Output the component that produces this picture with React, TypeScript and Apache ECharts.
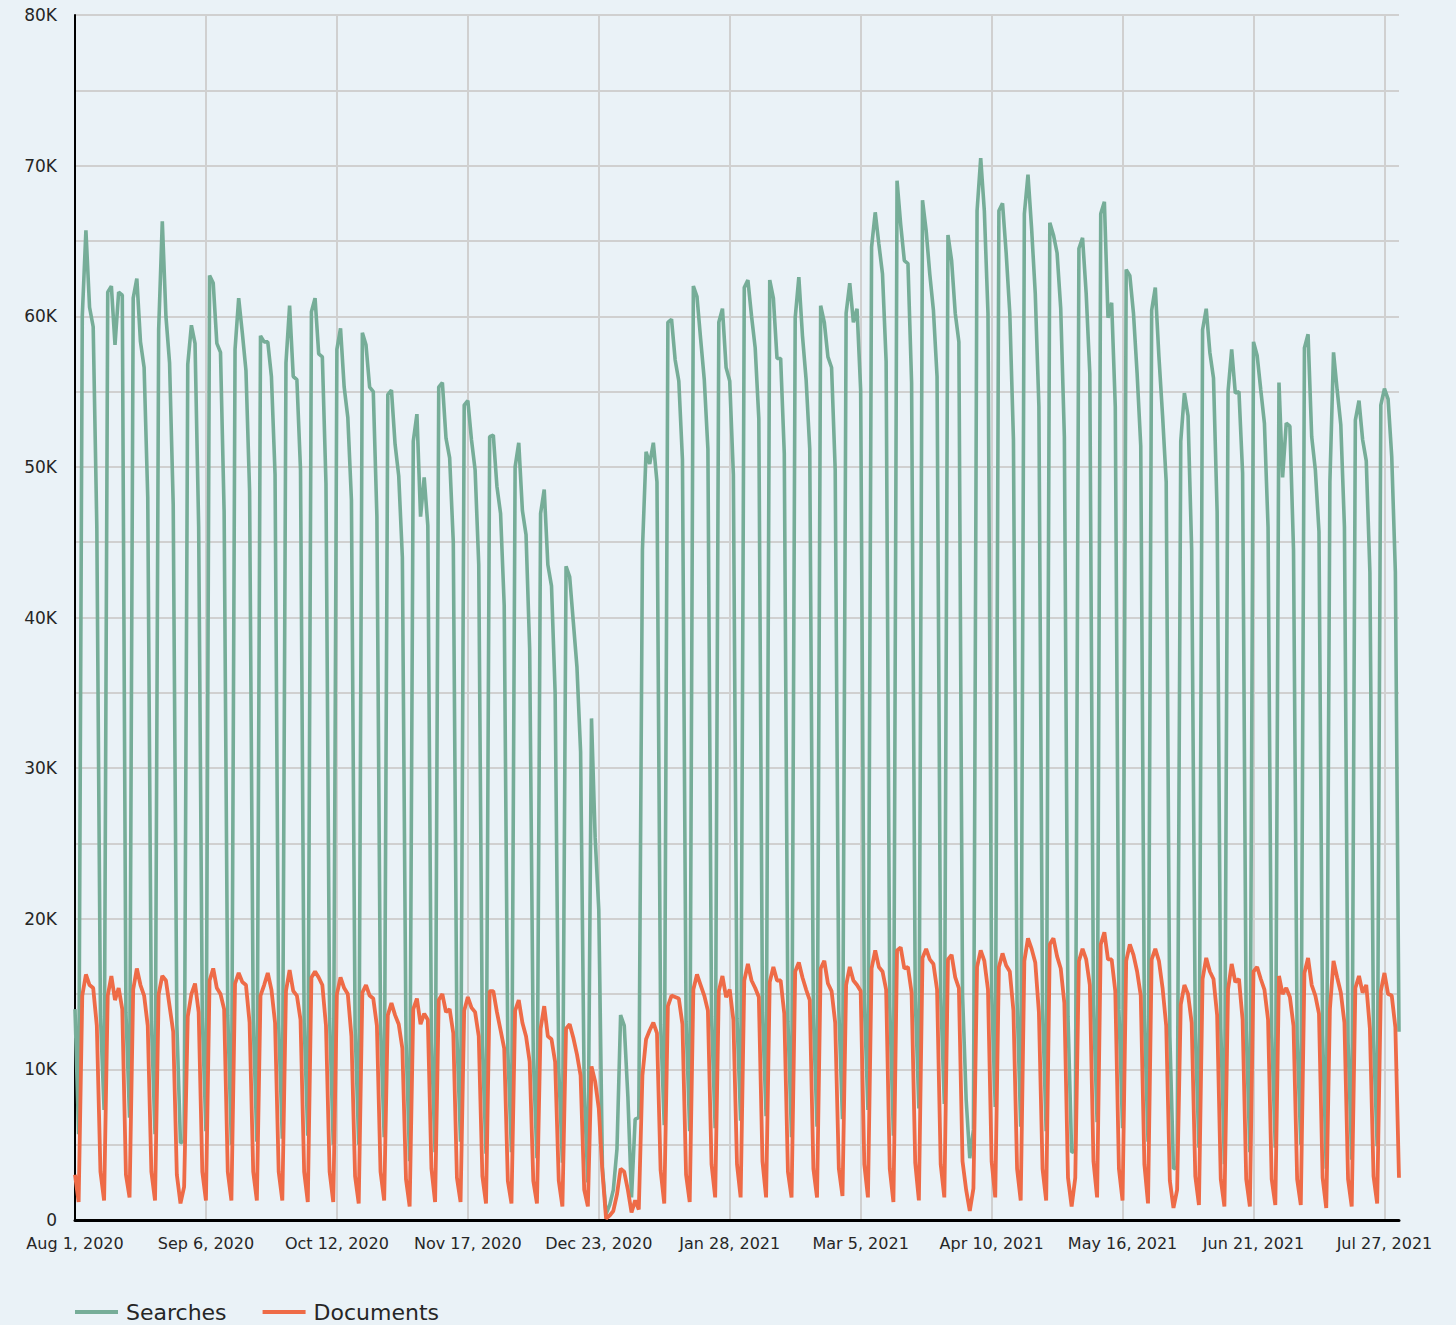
import React, { useEffect, useRef } from "react";
import * as echarts from "echarts";

// Daily dates: Aug 1, 2020 .. Jul 31, 2021 (365 days)
const MONTHS = ["Jan", "Feb", "Mar", "Apr", "May", "Jun", "Jul", "Aug", "Sep", "Oct", "Nov", "Dec"];
const START_UTC = Date.UTC(2020, 7, 1);
const DAY_COUNT = 365;
const dates: string[] = [];
for (let i = 0; i < DAY_COUNT; i++) {
  const d = new Date(START_UTC + i * 86400000);
  dates.push(`${MONTHS[d.getUTCMonth()]} ${d.getUTCDate()}, ${d.getUTCFullYear()}`);
}

// Values in thousands. Rows: first row Sat/Sun, then Mon..Sun weeks, last row Mon..Sat
const searchesK: number[] = [
  14.0, 5.7,
  60.0, 65.7, 60.6, 59.3, 46.0, 13.5, 7.3,
  61.6, 62.0, 58.1, 61.6, 61.4, 13.8, 6.8,
  61.2, 62.5, 58.3, 56.6, 48.0, 13.2, 5.7,
  59.1, 66.3, 60.0, 56.9, 47.5, 13.0, 5.1,
  5.3, 56.8, 59.4, 58.2, 46.0, 13.4, 5.9,
  62.7, 62.2, 58.2, 57.6, 47.0, 13.6, 5.0,
  57.8, 61.2, 58.9, 56.4, 48.4, 13.2, 5.2,
  58.7, 58.3, 58.3, 56.0, 49.5, 13.0, 5.4,
  56.9, 60.7, 56.0, 55.8, 49.8, 13.1, 5.6,
  60.3, 61.2, 57.5, 57.3, 48.9, 13.4, 5.0,
  57.8, 59.2, 55.3, 53.3, 47.8, 12.8, 5.0,
  58.9, 58.1, 55.3, 55.0, 46.7, 12.9, 5.5,
  54.8, 55.1, 51.5, 49.4, 44.0, 12.0, 3.9,
  51.7, 53.5, 46.7, 49.3, 46.1, 11.8, 4.5,
  55.3, 55.6, 51.9, 50.6, 45.0, 12.2, 5.2,
  54.1, 54.4, 51.8, 49.8, 43.5, 11.6, 4.4,
  52.0, 52.1, 48.7, 46.9, 40.8, 11.2, 4.5,
  50.0, 51.6, 47.1, 45.5, 37.9, 10.8, 4.1,
  46.9, 48.5, 43.5, 42.1, 35.0, 10.0, 3.8,
  43.4, 42.7, 39.7, 36.7, 31.1, 8.5, 2.5,
  33.3, 25.4, 20.6, 3.5, 0.4, 1.0, 2.0,
  4.7, 13.6, 12.9, 8.2, 1.5, 6.7, 6.8,
  44.5, 51.0, 50.2, 51.6, 49.0, 13.0, 6.3,
  59.6, 59.8, 57.1, 55.7, 50.5, 13.2, 5.9,
  62.0, 61.3, 58.5, 55.8, 51.2, 13.5, 6.1,
  59.6, 60.5, 56.6, 55.7, 49.5, 13.4, 6.6,
  61.9, 62.4, 60.0, 57.9, 53.2, 13.8, 6.9,
  62.4, 61.2, 57.2, 57.2, 50.9, 13.2, 5.5,
  59.9, 62.6, 58.7, 55.8, 51.2, 13.6, 6.2,
  60.7, 59.6, 57.3, 56.6, 49.8, 13.9, 6.7,
  60.2, 62.2, 59.6, 60.5, 55.1, 14.5, 7.3,
  64.6, 66.9, 64.8, 62.8, 57.0, 14.2, 5.6,
  69.0, 66.1, 63.7, 63.5, 55.6, 14.8, 7.4,
  67.7, 65.7, 62.8, 60.4, 56.0, 15.0, 7.7,
  65.4, 63.7, 60.2, 58.3, 15.0, 8.0, 4.1,
  6.0, 67.0, 70.5, 67.0, 60.2, 15.2, 7.5,
  67.0, 67.5, 64.2, 60.2, 51.8, 14.5, 6.2,
  66.8, 69.4, 65.8, 61.5, 54.0, 14.0, 5.9,
  66.2, 65.4, 64.2, 60.5, 52.0, 13.5, 4.5,
  4.6, 64.5, 65.2, 61.5, 56.2, 14.3, 6.5,
  66.8, 67.6, 59.9, 60.9, 54.0, 14.0, 6.1,
  63.1, 62.7, 60.2, 56.2, 51.4, 13.5, 5.2,
  60.4, 61.9, 57.3, 53.4, 49.0, 12.2, 3.4,
  3.5, 51.7, 54.9, 53.4, 44.5, 12.5, 4.8,
  59.1, 60.5, 57.6, 55.9, 47.0, 12.8, 3.7,
  55.0, 57.8, 54.9, 55.0, 49.6, 12.6, 4.5,
  58.3, 57.4, 55.1, 52.9, 46.0, 12.4, 4.8,
  55.6, 49.3, 52.9, 52.7, 44.5, 12.0, 5.0,
  57.9, 58.8, 52.0, 49.8, 45.7, 12.3, 3.4,
  49.0, 57.6, 55.1, 52.8, 46.0, 11.8, 4.0,
  53.1, 54.4, 51.8, 50.4, 43.0, 12.0, 4.9,
  54.1, 55.2, 54.5, 50.7, 43.0, 12.5,
];

const documentsK: number[] = [
  3.0, 1.2,
  14.9, 16.3, 15.6, 15.4, 12.9, 3.2, 1.3,
  14.9, 16.2, 14.6, 15.4, 14.0, 3.0, 1.5,
  15.3, 16.7, 15.6, 14.9, 12.9, 3.2, 1.3,
  15.0, 16.2, 15.9, 14.2, 12.5, 3.0, 1.1,
  2.2, 13.5, 15.0, 15.7, 13.8, 3.2, 1.3,
  15.9, 16.7, 15.4, 15.0, 14.0, 3.2, 1.3,
  15.7, 16.4, 15.8, 15.6, 13.1, 3.2, 1.3,
  14.9, 15.6, 16.4, 15.3, 13.1, 3.2, 1.3,
  15.2, 16.6, 15.2, 14.9, 13.3, 3.2, 1.2,
  16.1, 16.5, 16.1, 15.6, 12.9, 3.2, 1.2,
  15.0, 16.1, 15.4, 15.0, 12.2, 2.9, 1.1,
  15.1, 15.6, 14.9, 14.7, 12.9, 3.2, 1.3,
  13.6, 14.4, 13.6, 13.0, 11.4, 2.7, 0.9,
  14.0, 14.7, 13.0, 13.7, 13.3, 3.4, 1.2,
  14.6, 15.0, 13.8, 14.0, 12.4, 2.8, 1.2,
  13.9, 14.8, 14.1, 13.8, 12.2, 2.9, 1.1,
  15.2, 15.2, 13.8, 12.6, 11.4, 2.6, 1.1,
  13.9, 14.6, 13.1, 12.2, 10.5, 2.6, 1.1,
  12.7, 14.2, 12.2, 12.0, 10.5, 2.6, 0.9,
  12.7, 13.0, 12.1, 11.0, 9.6, 2.0, 0.9,
  10.2, 9.2, 7.4, 3.2, 0.1, 0.3, 0.6,
  1.7, 3.4, 3.2, 2.0, 0.5, 1.3, 0.7,
  9.6, 12.0, 12.6, 13.1, 12.4, 3.3, 1.1,
  14.2, 14.9, 14.8, 14.7, 13.0, 3.0, 1.2,
  15.3, 16.3, 15.6, 14.9, 13.9, 3.7, 1.5,
  15.2, 16.2, 14.8, 15.3, 13.3, 3.7, 1.5,
  15.9, 17.0, 15.9, 15.4, 14.8, 3.9, 1.5,
  15.8, 16.8, 15.9, 15.9, 13.7, 3.2, 1.5,
  16.5, 17.1, 16.1, 15.3, 14.6, 3.4, 1.5,
  16.7, 17.2, 15.7, 15.2, 13.1, 3.4, 1.6,
  15.6, 16.8, 15.9, 15.6, 15.2, 3.7, 1.5,
  16.7, 17.9, 16.8, 16.5, 15.3, 3.4, 1.2,
  17.9, 18.1, 16.7, 16.8, 15.1, 3.8, 1.3,
  17.4, 18.0, 17.3, 17.0, 15.3, 3.7, 1.5,
  17.3, 17.6, 16.1, 15.4, 3.9, 2.0, 0.6,
  2.1, 16.8, 17.9, 17.2, 15.3, 3.9, 1.5,
  16.8, 17.7, 16.9, 16.5, 13.9, 3.4, 1.3,
  17.2, 18.7, 18.0, 17.1, 13.8, 3.4, 1.3,
  18.3, 18.7, 17.5, 16.7, 14.4, 2.8, 0.9,
  2.8, 17.2, 18.0, 17.3, 15.6, 3.9, 1.5,
  18.3, 19.1, 17.3, 17.3, 15.2, 3.4, 1.3,
  17.2, 18.3, 17.6, 16.5, 14.9, 3.7, 1.1,
  17.3, 18.0, 17.2, 15.4, 12.9, 2.6, 0.8,
  2.0, 14.3, 15.6, 15.0, 13.1, 2.9, 1.0,
  16.0, 17.4, 16.5, 16.0, 13.6, 2.7, 0.9,
  15.3, 17.0, 15.8, 16.0, 13.3, 2.7, 0.9,
  16.5, 16.8, 16.0, 15.3, 13.3, 2.7, 1.0,
  16.2, 15.0, 15.4, 14.8, 12.9, 2.7, 1.0,
  16.4, 17.4, 15.6, 14.9, 13.7, 2.8, 0.8,
  14.0, 17.2, 16.1, 15.1, 13.1, 2.7, 0.9,
  15.4, 16.2, 15.1, 15.6, 12.7, 2.9, 1.1,
  15.2, 16.4, 15.0, 14.9, 12.8, 2.8,
];

const SERIES_NAMES = ["Searches", "Documents"];
const Y_MAX_K = 80;
const Y_STEP_K = 5;
const X_LABEL_EVERY = 36;

export default function App() {
  const ref = useRef<HTMLDivElement>(null);

  useEffect(() => {
    document.body.style.margin = "0";
    document.body.style.background = "#EAF2F7";
    if (!ref.current) return;
    const chart = echarts.init(ref.current, undefined, { renderer: "svg" });
    const textColor = "#262626";
    chart.setOption({
      animation: false,
      backgroundColor: "#EAF2F7",
      textStyle: { fontFamily: '"DejaVu Sans", sans-serif' },
      grid: { left: 75, right: 57, top: 15, bottom: 105, containLabel: false },
      legend: {
        data: SERIES_NAMES,
        left: 70,
        top: 1296,
        padding: 5,
        icon: "rect",
        itemWidth: 43,
        itemHeight: 4,
        itemGap: 36,
        textStyle: { fontSize: 22, color: textColor, padding: [0, 0, 0, 3], lineHeight: 22 },
      },
      xAxis: {
        type: "category",
        data: dates,
        boundaryGap: false,
        axisLine: { lineStyle: { color: "#000", width: 3 } },
        axisTick: { show: false },
        axisLabel: { interval: X_LABEL_EVERY - 1, color: textColor, fontSize: 16, margin: 15 },
        splitLine: { show: true, interval: X_LABEL_EVERY - 1, lineStyle: { color: "#d0d0d0", width: 2 } },
      },
      yAxis: {
        type: "value",
        min: 0,
        max: Y_MAX_K,
        interval: Y_STEP_K,
        axisLine: { show: true, lineStyle: { color: "#000", width: 2 } },
        axisTick: { show: false },
        axisLabel: {
          color: textColor,
          fontSize: 17,
          margin: 18,
          formatter: (v: number) => (v % 10 === 0 ? (v === 0 ? "0" : `${v}K`) : ""),
        },
        splitLine: { show: true, lineStyle: { color: "#d0d0d0", width: 2 } },
      },
      series: [
        {
          name: SERIES_NAMES[0],
          type: "line",
          data: searchesK,
          symbol: "none",
          showSymbol: false,
          lineStyle: { color: "#76AD98", width: 3.6 },
          itemStyle: { color: "#76AD98" },
        },
        {
          name: SERIES_NAMES[1],
          type: "line",
          data: documentsK,
          symbol: "none",
          showSymbol: false,
          lineStyle: { color: "#EE6B47", width: 3.8 },
          itemStyle: { color: "#EE6B47" },
        },
      ],
    });
    return () => chart.dispose();
  }, []);

  return (
    <div
      ref={ref}
      style={{ position: "absolute", left: 0, top: 0, width: 1456, height: 1325 }}
    />
  );
}
